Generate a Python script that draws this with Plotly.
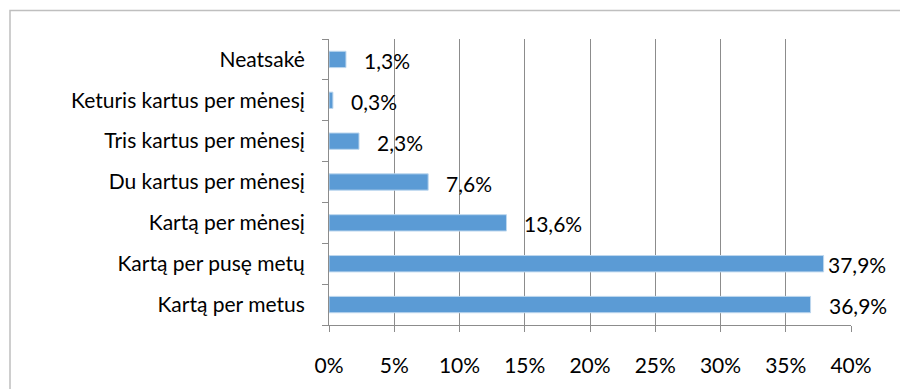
import plotly.graph_objects as go

# Survey answers, listed bottom-to-top as drawn
categories = [
    "Kartą per metus",
    "Kartą per pusę metų",
    "Kartą per mėnesį",
    "Du kartus per mėnesį",
    "Tris kartus per mėnesį",
    "Keturis kartus per mėnesį",
    "Neatsakė",
]
shares = [36.9, 37.9, 13.6, 7.6, 2.3, 0.3, 1.3]
label_shift = [16, 2, 16, 16, 16, 16, 16]

x_ticks = [0, 5, 10, 15, 20, 25, 30, 35, 40]
x_tick_text = [f"{v}%" for v in x_ticks]

FONT = "Lato, 'Open Sans', sans-serif"
FS = 21
BAR = "#5B9BD5"
GRID = "#8C8C8C"

fig = go.Figure(
    go.Bar(
        y=categories,
        x=shares,
        orientation="h",
        marker=dict(color=BAR, line=dict(color="#BDD7EE", width=1)),
        width=0.4,
        hoverinfo="skip",
    )
)

# Percent labels next to each bar end
for cat, val, sh in zip(categories, shares, label_shift):
    fig.add_annotation(
        x=val, y=cat, xref="x", yref="y",
        text=f"{val:.1f}%".replace(".", ","),
        showarrow=False, xanchor="left", yanchor="middle",
        xshift=sh, yshift=-1,
        font=dict(family=FONT, size=FS, color="#000000"),
    )

# Outer chart frame (runs off the right and bottom edges)
L, R, T, B = 329, 49, 39, 60
W, H = 900, 389
pw, ph = W - L - R, H - T - B
fig.add_shape(
    type="rect", xref="paper", yref="paper",
    x0=(10 - L) / pw, x1=(905 - L) / pw,
    y0=(H - B - 395) / ph, y1=(H - B - 10) / ph,
    line=dict(color="#BFBFBF", width=1.5), fillcolor="rgba(0,0,0,0)",
    layer="below",
)

fig.update_layout(
    width=W, height=H,
    margin=dict(l=L, r=R, t=T, b=B),
    paper_bgcolor="white", plot_bgcolor="white",
    showlegend=False,
    font=dict(family=FONT, size=FS, color="#000000"),
    xaxis=dict(
        range=[0, 40], tickvals=x_ticks, ticktext=x_tick_text,
        showgrid=True, gridcolor=GRID, gridwidth=1,
        zeroline=False, showline=True, linecolor=GRID, linewidth=1,
        ticks="outside", ticklen=6, tickcolor=GRID,
        ticklabelstandoff=16,
        tickfont=dict(family=FONT, size=FS),
    ),
    yaxis=dict(
        categoryorder="array", categoryarray=categories,
        showgrid=False, zeroline=False,
        showline=True, linecolor=GRID, linewidth=1,
        ticks="outside", ticklen=6, tickcolor=GRID, tickson="boundaries",
        ticklabelstandoff=19,
        tickfont=dict(family=FONT, size=FS),
    ),
)

fig.write_html("out.html")
